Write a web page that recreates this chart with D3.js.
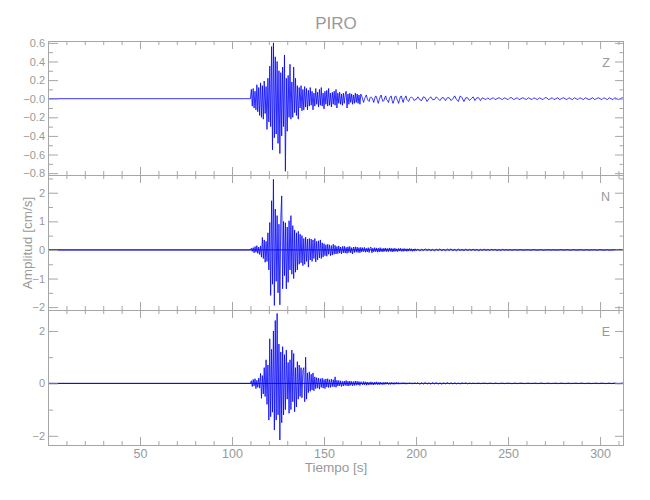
<!DOCTYPE html>
<html><head><meta charset="utf-8">
<script src="https://cdn.jsdelivr.net/npm/d3@7"></script>
<style>
body{margin:0;background:#fff}
text{font-family:"Liberation Sans","DejaVu Sans",sans-serif;fill:#999}
</style>
</head><body>
<svg id="chart" width="650" height="500"></svg>
<script>
// ---------- chart data ----------
const title = "PIRO";
const xLabel = "Tiempo [s]";
const yLabel = "Amplitud [cm/s]";
const components = ["Z", "N", "E"];
const xTicks = [50, 100, 150, 200, 250, 300];
const xMinorTicks = [10,20,30,40,60,70,80,90,110,120,130,140,160,170,180,190,210,220,230,240,260,270,280,290,310];
const recordEnd = 313;             // s
const zDomain = [-0.82, 0.62];
const nDomain = [-2.1, 2.62];
const eDomain = [-2.35, 2.8];
const zTicks = [0.6, 0.4, 0.2, 0, -0.2, -0.4, -0.6, -0.8];
const zTickLabels = ["0.6", "0.4", "0.2", "\u22120.0", "\u22120.2", "\u22120.4", "\u22120.6", "\u22120.8"];
const zMinorTicks = [0.5, 0.3, 0.1, -0.1, -0.3, -0.5, -0.7];
const nTicks = [2, 1, 0, -1, -2];
const nTickLabels = ["2", "1", "0", "\u22121", "\u22122"];
const nMinorTicks = [2.5, 1.5, 0.5, -0.5, -1.5];
const eTicks = [2, 0, -2];
const eTickLabels = ["2", "0", "\u22122"];
const eMinorTicks = [1, -1];

// trace sampling: burst from onset every 0.5 s, coda from 201 s every 1 s
const onsetTime = 110, burstStep = 0.5, codaStart = 201, codaStep = 1;
// amplitudes in hundredths of cm/s
const zBurst = [0,10,-8,11,-10,8,-12,15,-14,12,
-18,17,-20,14,-22,19,-16,13,-33,22,
-25,35,-30,56,-55,60,-42,45,-38,40,
-48,30,-59,28,-40,34,-30,47,-78,22,
-35,25,-20,37,-22,18,-20,34,-15,22,
-18,14,-22,12,-10,14,-13,10,-12,13,
-9,11,-12,9,-8,
12,-7,8,-12,6,-8,11,-6,7,-9,10,-7,12,-8,6,-11,8,-6,9,-8,11,-7,6,-9,7,-6,8,-7,10,-10,
6,-5,7,-6,5,-7,6,-5,4,8,-10,5,-6,6,-4,5,-6,4,-5,6,-4,5,-5,4,-6,5,
3,-1,-4,0,2,4,0,-2,-3,1,2,1,-1,-4,0,3,2,-2,-5,-1,2,4,0,-3,-2,1,3,-1,-2,-4,0,2,3,-2,-5,-2,2,3,0,-2,-5,-1,2,3,-1,-4,0,1,3,-1,
-2,-3,0,1,2,1,0,-2,-1,-1];
const zCoda = [2,-1,-2,2,1,-3,0,2,-1,-1,2,0,-2,1,1,-2,1,1,-2,0,3,-1,-3,3,1,-3,1,1,-2,0,2,-2,1,1,-2,1,0,-1,1,-1,0,1,-1,0,1,
0,-1,1,0,-1,1,1,-1,0,1,-1,0,1,0,-1,1,0,-1,1,0,-1,1,0,-1,1,1,-1,0,1,-1,0,1,-1,0,1,0,-1,1,0,-1,1,0,-1,1,0,-1,1,0,-1,0,1,-1,0,1,0,-1,1,0,-1,1,0,-1,1,0,-1,0,1,0];

const nBurst = [0,6,-5,8,-10,12,-8,15,-12,10,
-16,14,-25,44,-30,35,-43,30,-40,60,
-70,96,-159,172,-120,247,-194,143,-110,120,
-150,90,-192,110,189,-136,100,-90,95,-136,
80,-113,102,-70,120,-85,85,-100,70,-78,
60,-70,65,-50,55,-45,50,-55,40,-50,
45,-40,38,-60,40,-35,38,-40,35,-30,
40,-42,30,-35,32,-28,35,-30,25,-25,
22,-20,18,-22,20,-15,18,-20,15,-18,
20,-15,16,-14,
12,-13,14,-11,10,-14,12,-10,13,-11,9,-12,11,-9,12,-10,8,-14,10,-9,11,-8,10,-9,8,-10,9,
-7,8,-6,9,-8,6,-7,8,-9,7,10,-10,6,-7,8,-6,7,-8,6,-7,8,-6,5,-7,6,-5,7,-6,5,-6,7,-5,6,-7,5,-6,6,-5,4,-6,5,-4,6,-5,4,-5,5,-4,4,-5,4,-4,5,-3,4,-5,3,-4,4,-3];
const nCoda = [3,-4,2,-3,4,-2,3,-3,2,-4,3,-2,4,-3,2,-3,3,-2,4,-3,2,-3,3,-2,2,-3,3,-2,2,-2,3,-2,2,-3,2,-2,3,-2,2,-2,2,-1,2,-2,1,-2,2,-1,1,-1,
1,-1,0,1,-1,0,1,-1,0,0,1,-1,0,1,0,-1,0,1,-1,0,0,1,-1,0,1,-1,0,0,1,-1,0,1,0,-1,0,1,-1,0,0,1,-1,0,1,-1,0,0,1,-1,0,1,0,-1,0,1,-1,0,0,1,-1,0,1,-1,0];

const eBurst = [0,10,-12,15,-10,18,-20,12,-15,20,
-18,38,-57,30,-40,60,-50,90,-80,70,
-140,170,-127,130,-110,200,-178,240,-140,267,
-120,150,-216,120,-150,140,-120,110,-100,127,
-60,80,-114,90,-100,127,-70,114,-108,60,
-90,83,-60,70,-50,60,-55,50,60,-70,
100,-60,40,-35,44,-30,35,-25,40,-28,
25,-20,22,-18,20,-22,18,-15,20,-18,
15,-20,17,-14,18,-16,14,-15,16,-12,
14,-13,25,-15,12,
-10,11,-9,10,-12,8,-10,9,-8,11,-9,8,-10,9,-7,8,-9,7,-8,9,-7,8,-6,7,-8,6,
5,-6,7,-5,6,-7,5,-6,4,-5,6,-5,4,-6,5,-4,6,-5,4,-5,5,-4,3,-5,4,-4,5,-3,4,-4,3,-4,4,-3,3,-4,3,-3,4,-3,3,-3,2,-3,3,-2,3,-3,2,-3,2,-2,3,-2,2,-3,2,-2,3,-2];
const eCoda = [3,-4,3,-3,4,-3,2,-3,3,-2,3,-3,2,-3,2,-2,3,-2,2,-2,2,-2,1,-2,2,-1,2,-2,1,-1,
1,-1,0,1,-1,0,1,0,-1,1,0,-1,1,0,-1,0,1,-1,0,1,0,-1,0,1,-1,0,1,0,-1,0,1,-1,0,0,1,-1,0,1,0,-1,0,1,-1,0,0,1,-1,0,1,0,-1,0,1,-1,0,0,1,-1,0,1,0,-1,0,1,-1,0,0,1,-1,0,1,0,-1,0,1,-1,0,1,0,-1,0,1,0];

// ---------- drawing ----------
const svg = d3.select("#chart");
const plotLeft = 48, plotRight = 624;
const panelTops = [41, 175, 310], panelBottoms = [175, 310, 445];
const axisColor = "#a6a6a6";
const textColor = "#999";

const x = d3.scaleLinear().domain([0, recordEnd]).range([plotLeft, plotRight]);

function toPoints(burst, coda) {
  const pts = [[0, 0]];
  burst.forEach((v, i) => pts.push([onsetTime + i * burstStep, v / 100]));
  coda.forEach((v, i) => pts.push([codaStart + i * codaStep, v / 100]));
  return pts;
}

const panels = [
  {name: components[0], domain: zDomain, ticks: zTicks, labels: zTickLabels, minor: zMinorTicks, data: toPoints(zBurst, zCoda), zeroLine: false},
  {name: components[1], domain: nDomain, ticks: nTicks, labels: nTickLabels, minor: nMinorTicks, data: toPoints(nBurst, nCoda), zeroLine: true},
  {name: components[2], domain: eDomain, ticks: eTicks, labels: eTickLabels, minor: eMinorTicks, data: toPoints(eBurst, eCoda), zeroLine: true}
];

function styleAxis(g) {
  g.select(".domain").remove();
  g.selectAll(".tick line").attr("stroke", axisColor);
  g.selectAll(".tick text").attr("fill", textColor);
}

const traceLayer = svg.append("g");
const axisLayer = svg.append("g");

panels.forEach((p, k) => {
  const top = panelTops[k], bottom = panelBottoms[k], h = bottom - top;
  const y = d3.scaleLinear().domain(p.domain).range([bottom, top]);

  const clipId = "clip" + k;
  svg.append("clipPath").attr("id", clipId).append("rect")
    .attr("x", plotLeft).attr("y", top).attr("width", plotRight - plotLeft).attr("height", h);

  const g = traceLayer.append("g").attr("clip-path", `url(#${clipId})`);
  if (p.zeroLine) {
    g.append("line").attr("x1", x(0)).attr("x2", x(recordEnd))
      .attr("y1", y(0)).attr("y2", y(0))
      .attr("stroke", "#22227a").attr("stroke-width", 1);
  }
  const line = d3.line().x(d => x(d[0])).y(d => y(d[1]));
  g.append("path").datum(p.data)
    .attr("d", line).attr("fill", "none")
    .attr("stroke", "#0000ff").attr("stroke-width", 0.8)
    .attr("stroke-linejoin", "round");

  axisLayer.append("rect").attr("x", plotLeft + 0.5).attr("y", top + 0.5)
    .attr("width", plotRight - plotLeft - 1).attr("height", h)
    .attr("fill", "none").attr("stroke", axisColor);

  const isLast = k === panels.length - 1;
  axisLayer.append("g").attr("transform", `translate(0,${bottom})`)
    .call(d3.axisBottom(x).tickValues(xTicks).tickSizeInner(-8).tickSizeOuter(0).tickPadding(4)
      .tickFormat(isLast ? d3.format("d") : () => ""))
    .call(styleAxis)
    .call(a => a.selectAll(".tick text").attr("font-size", 12.5).attr("font-family", "Liberation Sans, sans-serif"));
  axisLayer.append("g").attr("transform", `translate(0,${bottom})`)
    .call(d3.axisBottom(x).tickValues(xMinorTicks).tickSizeInner(-4).tickSizeOuter(0).tickFormat(() => ""))
    .call(styleAxis);
  axisLayer.append("g").attr("transform", `translate(0,${top})`)
    .call(d3.axisTop(x).tickValues(xTicks).tickSizeInner(-8).tickSizeOuter(0).tickFormat(() => ""))
    .call(styleAxis);
  axisLayer.append("g").attr("transform", `translate(0,${top})`)
    .call(d3.axisTop(x).tickValues(xMinorTicks).tickSizeInner(-4).tickSizeOuter(0).tickFormat(() => ""))
    .call(styleAxis);

  axisLayer.append("g").attr("transform", `translate(${plotLeft},0)`)
    .call(d3.axisLeft(y).tickValues(p.ticks).tickSizeInner(-10).tickSizeOuter(0).tickPadding(3)
      .tickFormat((d, i) => p.labels[i]))
    .call(styleAxis)
    .call(a => a.selectAll(".tick text").attr("font-size", 11).attr("font-family", "Liberation Sans, sans-serif"));
  axisLayer.append("g").attr("transform", `translate(${plotLeft},0)`)
    .call(d3.axisLeft(y).tickValues(p.minor).tickSizeInner(-5).tickSizeOuter(0).tickFormat(() => ""))
    .call(styleAxis);
  axisLayer.append("g").attr("transform", `translate(${plotRight},0)`)
    .call(d3.axisRight(y).tickValues(p.ticks).tickSizeInner(-9).tickSizeOuter(0).tickFormat(() => ""))
    .call(styleAxis);
  axisLayer.append("g").attr("transform", `translate(${plotRight},0)`)
    .call(d3.axisRight(y).tickValues(p.minor).tickSizeInner(-4.5).tickSizeOuter(0).tickFormat(() => ""))
    .call(styleAxis);

  axisLayer.append("text").attr("x", plotRight - 14).attr("y", top + 25.5)
    .attr("text-anchor", "end").attr("font-size", 12.5).text(p.name);
});

svg.append("text").attr("x", (plotLeft + plotRight) / 2).attr("y", 29)
  .attr("text-anchor", "middle").attr("font-size", 17).text(title);
svg.append("text").attr("x", (plotLeft + plotRight) / 2).attr("y", 472)
  .attr("text-anchor", "middle").attr("font-size", 13.5).text(xLabel);
svg.append("text").attr("transform", "translate(32,243) rotate(-90)")
  .attr("text-anchor", "middle").attr("font-size", 13.5).text(yLabel);
</script>
</body></html>
